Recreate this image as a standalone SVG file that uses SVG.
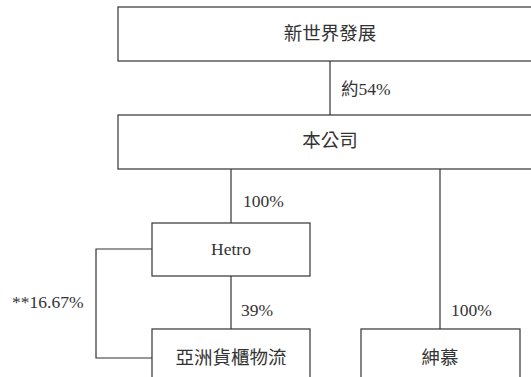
<svg xmlns="http://www.w3.org/2000/svg" width="531" height="377" viewBox="0 0 531 377">
<style>
.box{fill:#fff;stroke:#333;stroke-width:1.2}
.ln{fill:none;stroke:#333;stroke-width:1.2}
text{font-family:"Liberation Serif","Noto Sans CJK TC",serif;font-size:17.5px;fill:#333}
.cjk{font-size:18.5px}
.c{text-anchor:middle}
</style>
<rect width="531" height="377" fill="#fff"/>
<g id="connectors">
<line class="ln" x1="330" y1="61" x2="330" y2="115"/>
<line class="ln" x1="231" y1="169" x2="231" y2="223"/>
<line class="ln" x1="440" y1="169" x2="440" y2="329"/>
<line class="ln" x1="231" y1="276" x2="231" y2="329"/>
<polyline class="ln" points="152,249 96,249 96,358 152,358"/>
<text x="341" y="95">約54%</text>
<text x="243" y="207">100%</text>
<text x="12" y="308">**16.67%</text>
<text x="241" y="316">39%</text>
<text x="451" y="316">100%</text>
</g>
<g id="nwd"><rect class="box" x="118" y="7" width="430" height="54"/><text class="c cjk" x="330" y="40">新世界發展</text></g>
<g id="company"><rect class="box" x="118" y="115" width="430" height="54"/><text class="c cjk" x="330" y="147">本公司</text></g>
<g id="hetro"><rect class="box" x="152" y="223" width="158" height="53"/><text class="c" x="231" y="255">Hetro</text></g>
<g id="ats"><rect class="box" x="152" y="329" width="158" height="60"/><text class="c cjk" x="231" y="364">亞洲貨櫃物流</text></g>
<g id="shenmu"><rect class="box" x="361" y="329" width="159" height="60"/><text class="c cjk" x="440" y="364">紳慕</text></g>
</svg>
